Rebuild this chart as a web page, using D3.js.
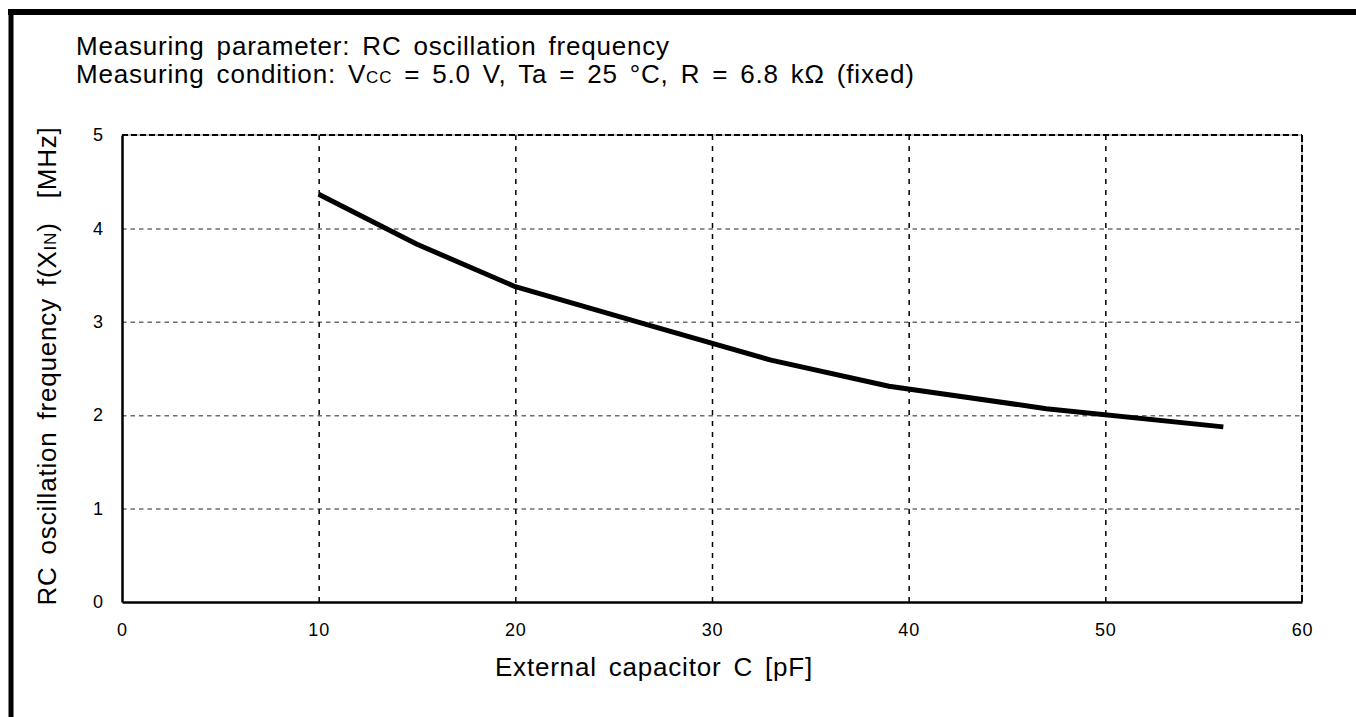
<!DOCTYPE html>
<html>
<head>
<meta charset="utf-8">
<script src="https://cdn.jsdelivr.net/npm/d3@7"></script>
<style>
  html, body { margin: 0; padding: 0; background: #fff; }
  svg { display: block; }
  text { font-family: "Liberation Sans", Arial, Helvetica, sans-serif; fill: #000; white-space: pre; }
  .big { font-size: 26px; letter-spacing: 0.8px; word-spacing: 4px; }
</style>
</head>
<body>
<svg id="chart" width="1356" height="717"></svg>
<script>
// ---- data ----
const capacitance = [10, 15, 20, 27, 33, 39, 47, 56];           // pF
const frequency   = [4.365, 3.83, 3.376, 2.95, 2.59, 2.31, 2.07, 1.875]; // MHz
const xTicks = [0, 10, 20, 30, 40, 50, 60];
const yTicks = [0, 1, 2, 3, 4, 5];
const titleLine1 = "Measuring parameter: RC oscillation frequency";
const xLabel = "External capacitor C [pF]";

// ---- layout ----
const svg = d3.select("#chart");
const W = 1356, H = 717;
const plot = { left: 122, right: 1302, top: 135, bottom: 602 };

const x = d3.scaleLinear().domain([0, 60]).range([plot.left, plot.right]);
const y = d3.scaleLinear().domain([0, 5]).range([plot.bottom, plot.top]);

// outer frame (top + left thick lines)
svg.append("line").attr("x1", 8).attr("x2", W).attr("y1", 12).attr("y2", 12)
  .attr("stroke", "#000").attr("stroke-width", 6);
svg.append("line").attr("x1", 11).attr("x2", 11).attr("y1", 9).attr("y2", H)
  .attr("stroke", "#000").attr("stroke-width", 5);

// titles
svg.append("text").attr("class", "big").attr("x", 76).attr("y", 55).text(titleLine1);
const t2 = svg.append("text").attr("class", "big").attr("x", 76).attr("y", 83);
t2.append("tspan").text("Measuring condition: V");
t2.append("tspan").attr("font-size", 17).text("CC");
t2.append("tspan").text(" = 5.0 V, Ta = 25 °C, R = 6.8 kΩ (fixed)");

// grid lines (horizontal gray, vertical black, dashed)
const g = svg.append("g");
g.append("g")
  .attr("transform", `translate(${plot.left},0)`)
  .call(d3.axisLeft(y).tickValues(yTicks.filter(v => v > 0 && v < 5)).tickSize(-(plot.right - plot.left)).tickFormat(""))
  .call(s => s.select(".domain").remove())
  .call(s => s.selectAll("line").attr("stroke", "#6e6e6e").attr("stroke-width", 1.5).attr("stroke-dasharray", "4.5,4"));
g.append("g")
  .attr("transform", `translate(0,${plot.bottom})`)
  .call(d3.axisBottom(x).tickValues(xTicks.filter(v => v > 0 && v < 60)).tickSize(-(plot.bottom - plot.top)).tickFormat(""))
  .call(s => s.select(".domain").remove())
  .call(s => s.selectAll("line").attr("stroke", "#000").attr("stroke-width", 1.5).attr("stroke-dasharray", "5,6"));

// top & right borders (dashed)
svg.append("line").attr("x1", plot.left).attr("x2", plot.right).attr("y1", plot.top).attr("y2", plot.top)
  .attr("stroke", "#888").attr("stroke-width", 1);
svg.append("line").attr("x1", plot.left).attr("x2", plot.right).attr("y1", plot.top).attr("y2", plot.top)
  .attr("stroke", "#000").attr("stroke-width", 2).attr("stroke-dasharray", "6,3");
svg.append("line").attr("x1", plot.right).attr("x2", plot.right).attr("y1", plot.top).attr("y2", plot.bottom)
  .attr("stroke", "#888").attr("stroke-width", 1);
svg.append("line").attr("x1", plot.right).attr("x2", plot.right).attr("y1", plot.top).attr("y2", plot.bottom)
  .attr("stroke", "#000").attr("stroke-width", 2).attr("stroke-dasharray", "7,3");

// left & bottom axes (solid)
const xAxis = svg.append("g").attr("transform", `translate(0,${plot.bottom})`)
  .call(d3.axisBottom(x).tickValues(xTicks).tickSize(0).tickPadding(21).tickFormat(d3.format("d")));
xAxis.select(".domain").attr("stroke", "#000").attr("stroke-width", 2.5);
xAxis.selectAll("text").attr("font-size", 18).attr("letter-spacing", "0.8px")
  .attr("font-family", "Liberation Sans, Arial, sans-serif").attr("fill", "#000");

const yAxis = svg.append("g").attr("transform", `translate(${plot.left},0)`)
  .call(d3.axisLeft(y).tickValues(yTicks).tickSize(0).tickPadding(19).tickFormat(d3.format("d")));
yAxis.select(".domain").attr("stroke", "#000").attr("stroke-width", 2.5);
yAxis.selectAll("text").attr("font-size", 18)
  .attr("font-family", "Liberation Sans, Arial, sans-serif").attr("fill", "#000");

// data line
const line = d3.line().x((d, i) => x(capacitance[i])).y(d => y(d));
svg.append("path").datum(frequency).attr("d", line)
  .attr("fill", "none").attr("stroke", "#000").attr("stroke-width", 5)
  .attr("stroke-linejoin", "round");

// axis labels
svg.append("text").attr("class", "big").attr("x", 654).attr("y", 676).attr("text-anchor", "middle")
  .text(xLabel);

const yl = svg.append("text").attr("class", "big").attr("transform", "translate(56,366) rotate(-90)")
  .attr("text-anchor", "middle");
yl.append("tspan").text("RC oscillation frequency f(X");
yl.append("tspan").attr("font-size", 17).text("IN");
yl.append("tspan").text(")  [MHz]");
</script>
</body>
</html>
